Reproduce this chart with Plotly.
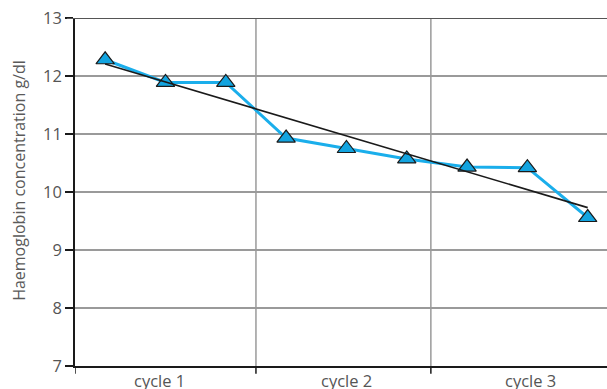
import numpy as np
import plotly.graph_objects as go

# Data
sample_index = [1, 2, 3, 4, 5, 6, 7, 8, 9]
haemoglobin = [12.28, 11.89, 11.89, 10.93, 10.75, 10.57, 10.43, 10.42, 9.56]
cycle_labels = ["cycle 1", "cycle 2", "cycle 3"]
cycle_label_pos = [1.9, 5.0, 8.05]
cycle_bounds = [0.5, 3.5, 6.4]
y_ticks = [7, 8, 9, 10, 11, 12, 13]
y_title = "Haemoglobin concentration g/dl"

# linear trend (least squares)
slope, intercept = np.polyfit(sample_index, haemoglobin, 1)
trend_x = [sample_index[0], sample_index[-1]]
trend_y = [slope * x + intercept for x in trend_x]

FONT = "Open Sans"
TXT = "#555555"

fig = go.Figure()
fig.add_trace(go.Scatter(
    x=sample_index, y=haemoglobin, mode="lines+markers",
    line=dict(color="#1AAEEB", width=3),
    marker=dict(symbol="triangle-up", size=16, color="#12A4E0",
                line=dict(color="#1a1a1a", width=1.2)),
    showlegend=False, cliponaxis=False,
))
fig.add_trace(go.Scatter(
    x=trend_x, y=trend_y, mode="lines",
    line=dict(color="#1a1a1a", width=1.6),
    showlegend=False,
))

shapes = []
for b in cycle_bounds[1:]:
    shapes.append(dict(type="line", xref="x", yref="paper", x0=b, x1=b, y0=0, y1=1,
                       line=dict(color="#9a9a9a", width=1.5), layer="below"))
shapes.append(dict(type="line", xref="paper", yref="y", x0=-0.015, x1=1, y0=13, y1=13,
                   line=dict(color="#555555", width=2.2)))
for b in cycle_bounds:
    shapes.append(dict(type="line", xref="x", yref="paper", x0=b, x1=b, y0=0, y1=-0.022,
                       line=dict(color="#1a1a1a", width=1.5)))

annotations = []
for lbl, pos in zip(cycle_labels, cycle_label_pos):
    annotations.append(dict(text=lbl, x=pos, xref="x", y=0, yref="paper",
                            yanchor="top", yshift=-1, showarrow=False,
                            font=dict(family=FONT, size=16.5, color=TXT)))
annotations.append(dict(text=y_title, textangle=-90, xref="paper", x=0, xshift=-56,
                        yref="paper", y=0.532, xanchor="center", yanchor="middle",
                        showarrow=False,
                        font=dict(family=FONT, size=16, color="#5a5a5a")))

fig.update_layout(
    width=607, height=389,
    margin=dict(l=75, r=0, t=18, b=23),
    paper_bgcolor="white", plot_bgcolor="white",
    shapes=shapes, annotations=annotations,
    font=dict(family=FONT, color=TXT),
    xaxis=dict(range=[0.5, 9.32], showgrid=False, zeroline=False,
               showline=True, linecolor="#1a1a1a", linewidth=1.5,
               showticklabels=False, ticks=""),
    yaxis=dict(range=[7, 13], tickvals=y_ticks, showgrid=True,
               gridcolor="#9a9a9a", gridwidth=1.5, zeroline=False,
               showline=True, linecolor="#1a1a1a", linewidth=1.5,
               ticks="outside", ticklen=8, tickcolor="#1a1a1a", tickwidth=1.5,
               tickfont=dict(family=FONT, size=16.5, color=TXT)),
)

fig.write_html("out.html", config={"displayModeBar": False},
               post_script="document.body.style.margin='0';document.body.style.padding='0';")
